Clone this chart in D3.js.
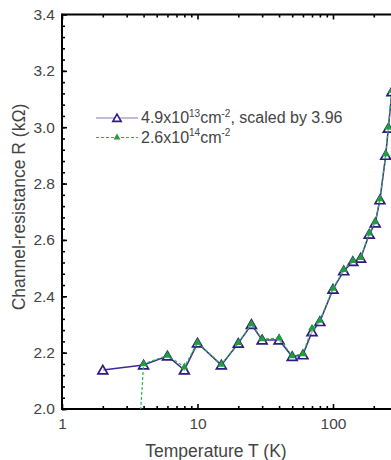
<!DOCTYPE html>
<html><head><meta charset="utf-8">
<script src="https://cdn.jsdelivr.net/npm/d3@7"></script>
<style>body{margin:0;background:#fff}svg{display:block;font-family:"Liberation Sans",Arial,sans-serif}</style>
</head><body><svg id="c" width="391" height="460"></svg>
<script>
const tempsA = [2,4,6,8,10,15,20,25,30,40,50,60,70,80,100,120,140,160,185,205,222,245,256,272];
const resA   = [2.138,2.156,2.188,2.138,2.234,2.156,2.233,2.300,2.245,2.245,2.186,2.192,2.274,2.310,2.425,2.490,2.523,2.535,2.620,2.660,2.742,2.900,2.996,3.126];
const tempsB = [3,4,6,8,10,15,20,25,30,40,50,60,70,80,100,120,140,160,185,205,222,245,256,272];
const resB   = [1.20,2.160,2.190,2.149,2.236,2.158,2.235,2.302,2.248,2.252,2.188,2.195,2.287,2.314,2.428,2.494,2.526,2.537,2.624,2.664,2.745,2.905,3.000,3.130];
const yTicks = [2.0,2.2,2.4,2.6,2.8,3.0,3.2,3.4];
const xTicks = [1,10,100,1000];
const xTickLabels = ["1","10","100","1000"];

const svg = d3.select("#c");
const L=62, T=14.5, B=409, decade=135.5;
const x = d3.scaleLog().domain([1,1000]).range([L, L+3*decade]);
const y = d3.scaleLinear().domain([2.0,3.4]).range([B,T]);

svg.append("defs").append("clipPath").attr("id","clip")
  .append("rect").attr("x",L).attr("y",T).attr("width",500).attr("height",B-T);

const xMinor=[]; for(let d=1; d<1000; d*=10) for(let k=2;k<10;k++) xMinor.push(d*k);
const yMinor=[]; for(let v=2.0; v<3.4-1e-9; v+=0.04) yMinor.push(+v.toFixed(2));

const g = svg.append("g");
g.append("g").attr("transform",`translate(0,${B})`)
  .call(d3.axisBottom(x).tickValues(xMinor).tickSizeInner(-3).tickSizeOuter(0).tickFormat(""))
  .call(a=>a.select(".domain").remove());
g.append("g").attr("transform",`translate(0,${B})`)
  .call(d3.axisBottom(x).tickValues(xTicks).tickSizeInner(-5).tickSizeOuter(0).tickPadding(9)
     .tickFormat((d,i)=>xTickLabels[i]))
  .call(a=>a.select(".domain").remove());
g.append("g").attr("transform",`translate(0,${T})`)
  .call(d3.axisTop(x).tickValues(xMinor).tickSizeInner(-3).tickSizeOuter(0).tickFormat(""))
  .call(a=>a.select(".domain").remove());
g.append("g").attr("transform",`translate(0,${T})`)
  .call(d3.axisTop(x).tickValues(xTicks).tickSizeInner(-5).tickSizeOuter(0).tickFormat(""))
  .call(a=>a.select(".domain").remove());
g.append("g").attr("transform",`translate(${L},0)`)
  .call(d3.axisLeft(y).tickValues(yMinor).tickSizeInner(-3).tickSizeOuter(0).tickFormat(""))
  .call(a=>a.select(".domain").remove());
g.append("g").attr("transform",`translate(${L},0)`)
  .call(d3.axisLeft(y).tickValues(yTicks).tickSizeInner(-5).tickSizeOuter(0).tickPadding(7).tickFormat(d3.format(".1f")))
  .call(a=>a.select(".domain").remove());
g.selectAll(".tick line").attr("stroke","#000").attr("stroke-width",1.6);
g.selectAll(".tick text").attr("font-size",15.5).attr("fill","#444").attr("font-family","Liberation Sans, Arial, sans-serif");
g.selectAll(".tick").filter(d=>d>=1000).remove();

svg.append("line").attr("x1",L).attr("x2",400).attr("y1",B).attr("y2",B).attr("stroke","#000").attr("stroke-width",2);
svg.append("line").attr("x1",L).attr("x2",400).attr("y1",T).attr("y2",T).attr("stroke","#000").attr("stroke-width",2);
svg.append("line").attr("x1",L).attr("x2",L).attr("y1",T-1).attr("y2",B+1).attr("stroke","#000").attr("stroke-width",2);

const purple="#2e1a82", purpleLine="#3f2896", green="#1f9e3c", greenLine="#2db34c";
const tri = d3.symbol().type(d3.symbolTriangle);

const plot = svg.append("g").attr("clip-path","url(#clip)");
const dataA = tempsA.map((t,i)=>({t, r:resA[i]}));
const dataB = tempsB.map((t,i)=>({t, r:resB[i]}));
const line = d3.line().x(d=>x(d.t)).y(d=>y(d.r));

plot.append("path").datum(dataA).attr("d",line).attr("fill","none").attr("stroke",purpleLine).attr("stroke-width",1.5);
plot.selectAll(".ma").data(dataA).enter().append("path")
  .attr("transform",d=>`translate(${x(d.t)},${y(d.r)+1})`).attr("d",tri.size(42))
  .attr("fill","#fff").attr("fill-opacity",0.6).attr("stroke",purple).attr("stroke-width",1.7);
plot.append("path").datum(dataB).attr("d",line).attr("fill","none").attr("stroke",greenLine).attr("stroke-width",1.2).attr("stroke-dasharray","3,2");
plot.selectAll(".mb").data(dataB).enter().append("path")
  .attr("transform",d=>`translate(${x(d.t)},${y(d.r)})`).attr("d",tri.size(26))
  .attr("fill",green);

const lg = svg.append("g");
lg.append("line").attr("x1",96).attr("x2",138).attr("y1",118).attr("y2",118).attr("stroke","#8d72c4").attr("stroke-width",1.2);
lg.append("path").attr("transform","translate(117,119)").attr("d",tri.size(30)).attr("fill","#fff").attr("stroke",purple).attr("stroke-width",1.6);
lg.append("line").attr("x1",96).attr("x2",138).attr("y1",137.5).attr("y2",137.5).attr("stroke",greenLine).attr("stroke-width",1.1).attr("stroke-dasharray","3,2");
lg.append("path").attr("transform","translate(117,137.5)").attr("d",tri.size(20)).attr("fill",green);

function legText(yy, parts){
  const t = lg.append("text").attr("x",141).attr("y",yy+5).attr("font-size",16).attr("fill","#444");
  parts.forEach(p=>{
    const s=t.append("tspan").text(p[0]);
    if(p[1]==="sup") s.attr("font-size",10).attr("dy",-6.5);
    if(p[1]==="down") s.attr("dy",6.5);
  });
}
legText(118, [["4.9x10"],["13","sup"],["cm","down"],["-2","sup"],[", scaled by 3.96","down"]]);
legText(137.5, [["2.6x10"],["14","sup"],["cm","down"],["-2","sup"]]);

svg.append("text").attr("x",216).attr("y",457).attr("text-anchor","middle").attr("font-size",17.5).attr("fill","#444").text("Temperature T (K)");
svg.append("text").attr("transform","translate(25,207) rotate(-90)").attr("text-anchor","middle").attr("font-size",17.5).attr("fill","#444").text("Channel-resistance R (kΩ)");
</script></body></html>
